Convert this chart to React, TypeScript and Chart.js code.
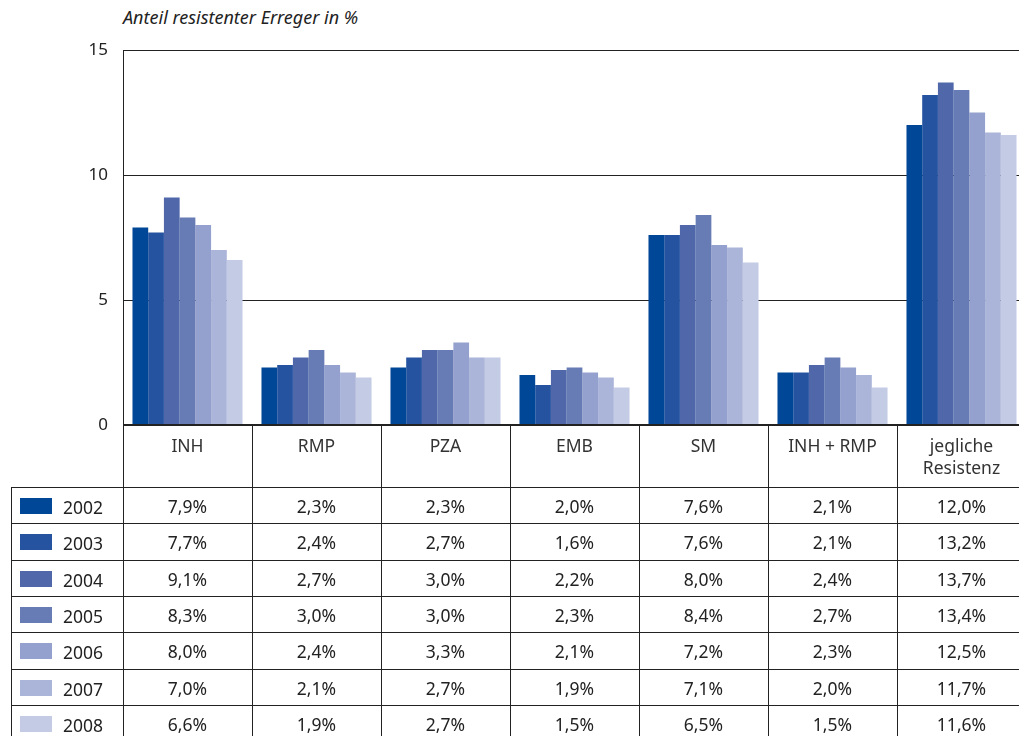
import React, { useEffect, useRef } from "react";
import { Chart, registerables } from "chart.js";

Chart.register(...registerables);

const categories = ["INH", "RMP", "PZA", "EMB", "SM", "INH + RMP", "jegliche Resistenz"];
const headerLines = [["INH"], ["RMP"], ["PZA"], ["EMB"], ["SM"], ["INH + RMP"], ["jegliche", "Resistenz"]];
const years = ["2002", "2003", "2004", "2005", "2006", "2007", "2008"];

const v2002 = [7.9, 2.3, 2.3, 2.0, 7.6, 2.1, 12.0];
const v2003 = [7.7, 2.4, 2.7, 1.6, 7.6, 2.1, 13.2];
const v2004 = [9.1, 2.7, 3.0, 2.2, 8.0, 2.4, 13.7];
const v2005 = [8.3, 3.0, 3.0, 2.3, 8.4, 2.7, 13.4];
const v2006 = [8.0, 2.4, 3.3, 2.1, 7.2, 2.3, 12.5];
const v2007 = [7.0, 2.1, 2.7, 1.9, 7.1, 2.0, 11.7];
const v2008 = [6.6, 1.9, 2.7, 1.5, 6.5, 1.5, 11.6];
const seriesValues = [v2002, v2003, v2004, v2005, v2006, v2007, v2008];

const colors = ["#004797", "#2553A0", "#5068AA", "#677BB5", "#94A1CE", "#ABB4D9", "#C4CBE5"];

const yMin = 0;
const yMax = 15;
const yStep = 5;

const titleText = "Anteil resistenter Erreger in %";

// layout constants
const CANVAS_W = 1030;
const CANVAS_H = 440;
const AREA_LEFT = 123;
const AREA_TOP = 50;
const AREA_BOTTOM = 425;
const COL_W = 129;
const HEADER_BOTTOM = 487;
const ROW_H = 36.3;
const TABLE_LEFT = 11;
const LINE = "#222";
const FONT = "'Noto Sans', 'Open Sans', sans-serif";
const TXT = 17.5;

const fmt = (v: number) => v.toFixed(1).replace(".", ",") + "%";

export default function App() {
  const canvasRef = useRef<HTMLCanvasElement | null>(null);

  useEffect(() => {
    if (!canvasRef.current) return;
    const chart = new Chart(canvasRef.current, {
      type: "bar",
      data: {
        labels: categories,
        datasets: years.map((y, i) => ({
          label: y,
          data: seriesValues[i],
          backgroundColor: colors[i],
          borderWidth: 0,
          barPercentage: 1,
          categoryPercentage: 0.853,
        })),
      },
      options: {
        responsive: false,
        animation: false,
        devicePixelRatio: 1,
        layout: {
          padding: {
            left: 0,
            top: AREA_TOP,
            right: CANVAS_W - (AREA_LEFT + COL_W * 7),
            bottom: CANVAS_H - AREA_BOTTOM,
          },
        },
        plugins: { legend: { display: false }, tooltip: { enabled: false }, title: { display: false } },
        scales: {
          x: { display: false },
          y: {
            min: yMin,
            max: yMax,
            ticks: {
              stepSize: yStep,
              color: "#222",
              padding: 15,
              font: { family: FONT, size: 17 },
            },
            grid: {
              color: LINE,
              lineWidth: (ctx: any) => (ctx.tick && ctx.tick.value === 0 ? 2 : 1),
              drawTicks: false,
            },
            border: { display: true, color: LINE, width: 1 },
            afterFit: (scale: any) => {
              scale.width = AREA_LEFT;
              scale.paddingTop = 0;
              scale.paddingBottom = 0;
            },
          },
        },
      },
    });
    return () => chart.destroy();
  }, []);

  const rowTop = (r: number) => Math.round(HEADER_BOTTOM + r * ROW_H);
  const right = AREA_LEFT + COL_W * 7;
  const elems: React.ReactNode[] = [];

  for (let c = 0; c <= 7; c++) {
    elems.push(
      <div key={"v" + c} style={{ position: "absolute", left: AREA_LEFT + c * COL_W, top: AREA_BOTTOM, width: 1, height: 760 - AREA_BOTTOM, background: LINE }} />
    );
  }
  elems.push(<div key="vl" style={{ position: "absolute", left: TABLE_LEFT, top: HEADER_BOTTOM, width: 1, height: 760 - HEADER_BOTTOM, background: LINE }} />);
  for (let r = 0; r <= 7; r++) {
    elems.push(
      <div key={"h" + r} style={{ position: "absolute", left: TABLE_LEFT, top: rowTop(r), width: right - TABLE_LEFT, height: 1, background: LINE }} />
    );
  }
  headerLines.forEach((lines, c) => {
    elems.push(
      <div key={"hd" + c} style={{ position: "absolute", left: AREA_LEFT + c * COL_W, top: 434, width: COL_W, textAlign: "center", fontFamily: FONT, fontSize: TXT, lineHeight: "22px", color: "#333" }}>
        {lines.map((l, k) => (
          <div key={k}>{l}</div>
        ))}
      </div>
    );
  });
  years.forEach((y, r) => {
    const top = rowTop(r);
    const h = rowTop(r + 1) - top;
    elems.push(<div key={"sw" + r} style={{ position: "absolute", left: 20, top: top + 11, width: 32, height: 16, background: colors[r] }} />);
    elems.push(
      <div key={"yr" + r} style={{ position: "absolute", left: 63, top: top + 2, height: h, lineHeight: h + "px", fontFamily: FONT, fontSize: TXT, color: "#222" }}>
        {y}
      </div>
    );
    seriesValues[r].forEach((v, c) => {
      elems.push(
        <div key={"c" + r + "_" + c} style={{ position: "absolute", left: AREA_LEFT + c * COL_W, top: top + 1, width: COL_W, height: h, lineHeight: h + "px", textAlign: "center", fontFamily: FONT, fontSize: TXT, color: "#222" }}>
          {fmt(v)}
        </div>
      );
    });
  });

  return (
    <div style={{ position: "absolute", left: 0, top: 0, width: 1019, height: 736, overflow: "hidden", background: "#fff" }}>
      <div style={{ position: "absolute", left: AREA_LEFT, top: 5, fontFamily: FONT, fontStyle: "italic", fontSize: 18, color: "#222", whiteSpace: "nowrap" }}>
        {titleText}
      </div>
      <canvas ref={canvasRef} width={CANVAS_W} height={CANVAS_H} style={{ position: "absolute", left: 0, top: 0, width: CANVAS_W, height: CANVAS_H }} />
      {elems}
    </div>
  );
}
